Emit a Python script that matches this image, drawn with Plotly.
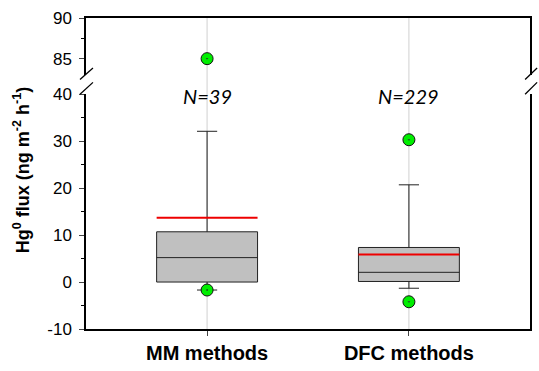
import plotly.graph_objects as go

# ---- data ----
categories = ["MM methods", "DFC methods"]
positions = [1, 2]
n_labels = ["N=39", "N=229"]
q1 = [0.0, 0.12]
median = [5.2, 2.07]
q3 = [10.7, 7.36]
lower_whisker = [-1.7, -1.32]
upper_whisker = [32.1, 20.7]
means = [13.7, 5.85]
outliers_low_panel = {1: [-1.7], 2: [-4.2, 30.3]}
outliers_high_panel = {1: [85.0], 2: []}

y_low_ticks = [-10, 0, 10, 20, 30, 40]
y_low_ticktext = ["-10", "0", "10", "20", "30", "40"]
y_high_ticks = [85, 90]
y_high_ticktext = ["85", "90"]

# ---- styling ----
BOX_W = 0.5
CAP_W = 0.1
FONT = "Liberation Sans, Arial, sans-serif"

fig = go.Figure()

box_kwargs = dict(
    x=positions, q1=q1, median=median, q3=q3,
    lowerfence=lower_whisker, upperfence=upper_whisker,
    width=BOX_W, boxpoints=False,
    fillcolor="#c0c0c0", line=dict(color="#222222", width=1),
    xaxis="x", yaxis="y", showlegend=False, hoverinfo="skip",
)
try:
    box = go.Box(whiskerwidth=CAP_W / BOX_W, **box_kwargs)
    has_caps = True
except Exception:
    box = go.Box(**box_kwargs)
    has_caps = False
fig.add_trace(box)

# whisker caps (only if the box trace cannot draw them)
if not has_caps:
    cap_x, cap_y = [], []
    for p, lo, hi in zip(positions, lower_whisker, upper_whisker):
        for v in (lo, hi):
            cap_x += [p - CAP_W / 2, p + CAP_W / 2, None]
            cap_y += [v, v, None]
    fig.add_trace(go.Scatter(x=cap_x, y=cap_y, mode="lines",
                             line=dict(color="#222222", width=1),
                             xaxis="x", yaxis="y", showlegend=False, hoverinfo="skip"))

# mean lines
mx, my = [], []
for p, m in zip(positions, means):
    mx += [p - BOX_W / 2, p + BOX_W / 2, None]
    my += [m, m, None]
fig.add_trace(go.Scatter(x=mx, y=my, mode="lines",
                         line=dict(color="#ee0000", width=2),
                         xaxis="x", yaxis="y", showlegend=False, hoverinfo="skip"))

marker = dict(symbol="circle-dot", size=12, color="#00ee00",
              line=dict(color="#111111", width=1))

# outliers lower panel
ox, oy = [], []
for p, vals in outliers_low_panel.items():
    ox += [p] * len(vals)
    oy += vals
fig.add_trace(go.Scatter(x=ox, y=oy, mode="markers", marker=marker,
                         xaxis="x", yaxis="y", showlegend=False, hoverinfo="skip"))

# outliers upper panel
ux, uy = [], []
for p, vals in outliers_high_panel.items():
    ux += [p] * len(vals)
    uy += vals
fig.add_trace(go.Scatter(x=ux, y=uy, mode="markers", marker=marker,
                         xaxis="x2", yaxis="y2", showlegend=False, hoverinfo="skip"))

# N annotations
for p, t in zip(positions, n_labels):
    fig.add_annotation(x=p, y=39.6, xref="x", yref="y", text=t, showarrow=False,
                       font=dict(family="Lato, sans-serif", size=20, color="black",
                                 style="italic"),
                       yanchor="middle")

# vertical light grid lines spanning both panels
for p in positions:
    fig.add_shape(type="line", xref="x", yref="paper", x0=p, x1=p, y0=0, y1=1,
                  line=dict(color="#d0d0d0", width=1), layer="below")

# break marks
for x0, x1 in [(-0.0135, 0.0157), (0.989, 1.016)]:
    for yb, yt in [(0.755, 0.793), (0.802, 0.839)]:
        fig.add_shape(type="line", xref="paper", yref="paper",
                      x0=x0, x1=x1, y0=yb, y1=yt,
                      line=dict(color="black", width=1.3))

# y-axis title
fig.add_annotation(x=-0.146, y=0.511, xref="paper", yref="paper",
                   text="Hg<sup>0</sup> flux (ng m<sup>-2</sup> h<sup>-1</sup>)",
                   textangle=-90, showarrow=False, xanchor="center", yanchor="middle",
                   font=dict(family=FONT, size=18, color="black", weight="bold"))

axis_common = dict(showline=True, linecolor="black", linewidth=1.5,
                   showgrid=False, zeroline=False)

fig.update_layout(
    width=539, height=371,
    margin=dict(l=86, r=7, t=18, b=30),
    paper_bgcolor="white", plot_bgcolor="white",
    font=dict(family=FONT, size=17, color="black"),
    xaxis=dict(range=[0.4, 2.6], tickvals=positions, ticktext=categories,
               ticks="outside", ticklen=5, tickcolor="#444444",
               tickfont=dict(family=FONT, size=20, weight="bold"),
               anchor="y", **axis_common),
    xaxis2=dict(range=[0.4, 2.6], matches="x", anchor="y2", side="top",
                showticklabels=False, ticks="", **axis_common),
    yaxis=dict(domain=[0, 0.755], range=[-10, 40], tickvals=y_low_ticks,
               ticktext=y_low_ticktext, ticks="outside", ticklen=5,
               ticklabelstandoff=4,
               minor=dict(dtick=5, ticks="outside", ticklen=3, tickcolor="black"),
               mirror=True, anchor="x", **axis_common),
    yaxis2=dict(domain=[0.817, 1], range=[83, 90], tickvals=y_high_ticks,
                ticktext=y_high_ticktext, ticks="outside", ticklen=5,
                ticklabelstandoff=4,
                minor=dict(tickvals=[87.5], ticks="outside", ticklen=3, tickcolor="black"),
                mirror=True, anchor="x2", **axis_common),
)

fig.write_html("out.html")
